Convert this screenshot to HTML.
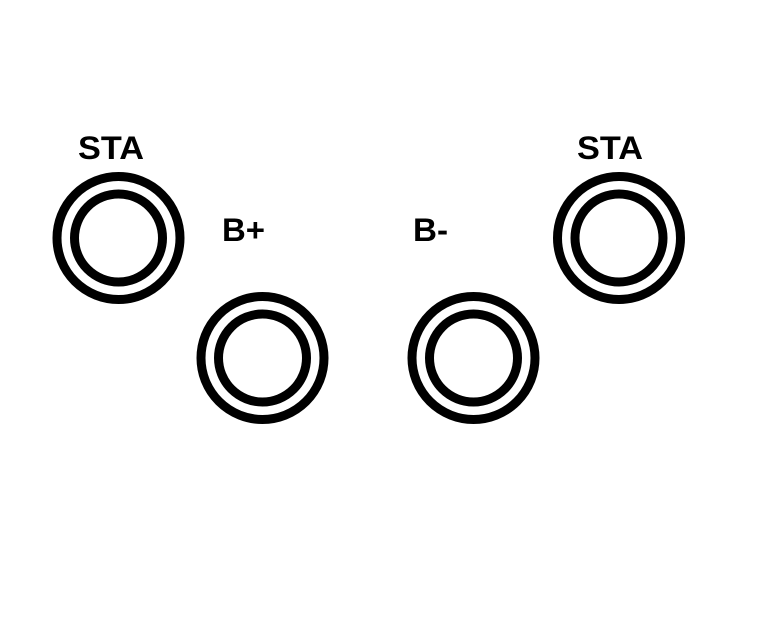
<!DOCTYPE html>
<html><head><style>
html,body{margin:0;padding:0;background:#fff;}
svg{display:block}
text{font-family:"Liberation Sans",Arial,sans-serif;font-weight:bold;font-size:32px;fill:#000}
</style></head><body>
<svg width="770" height="618" viewBox="0 0 770 618">
<g fill="none" stroke="#000" stroke-width="9">
<circle cx="118.5" cy="238" r="61.5"/><circle cx="118.5" cy="238" r="44"/>
<circle cx="262.5" cy="358" r="61.5"/><circle cx="262.5" cy="358" r="44"/>
<circle cx="473.5" cy="358" r="61.5"/><circle cx="473.5" cy="358" r="44"/>
<circle cx="619" cy="238" r="61.5"/><circle cx="619" cy="238" r="44"/>
</g>
<text x="78" y="159" textLength="66" lengthAdjust="spacingAndGlyphs">STA</text>
<text x="577" y="159" textLength="66" lengthAdjust="spacingAndGlyphs">STA</text>
<text x="222" y="241" textLength="43" lengthAdjust="spacingAndGlyphs">B+</text>
<text x="413" y="241" textLength="35" lengthAdjust="spacingAndGlyphs">B-</text>
</svg>
</body></html>
